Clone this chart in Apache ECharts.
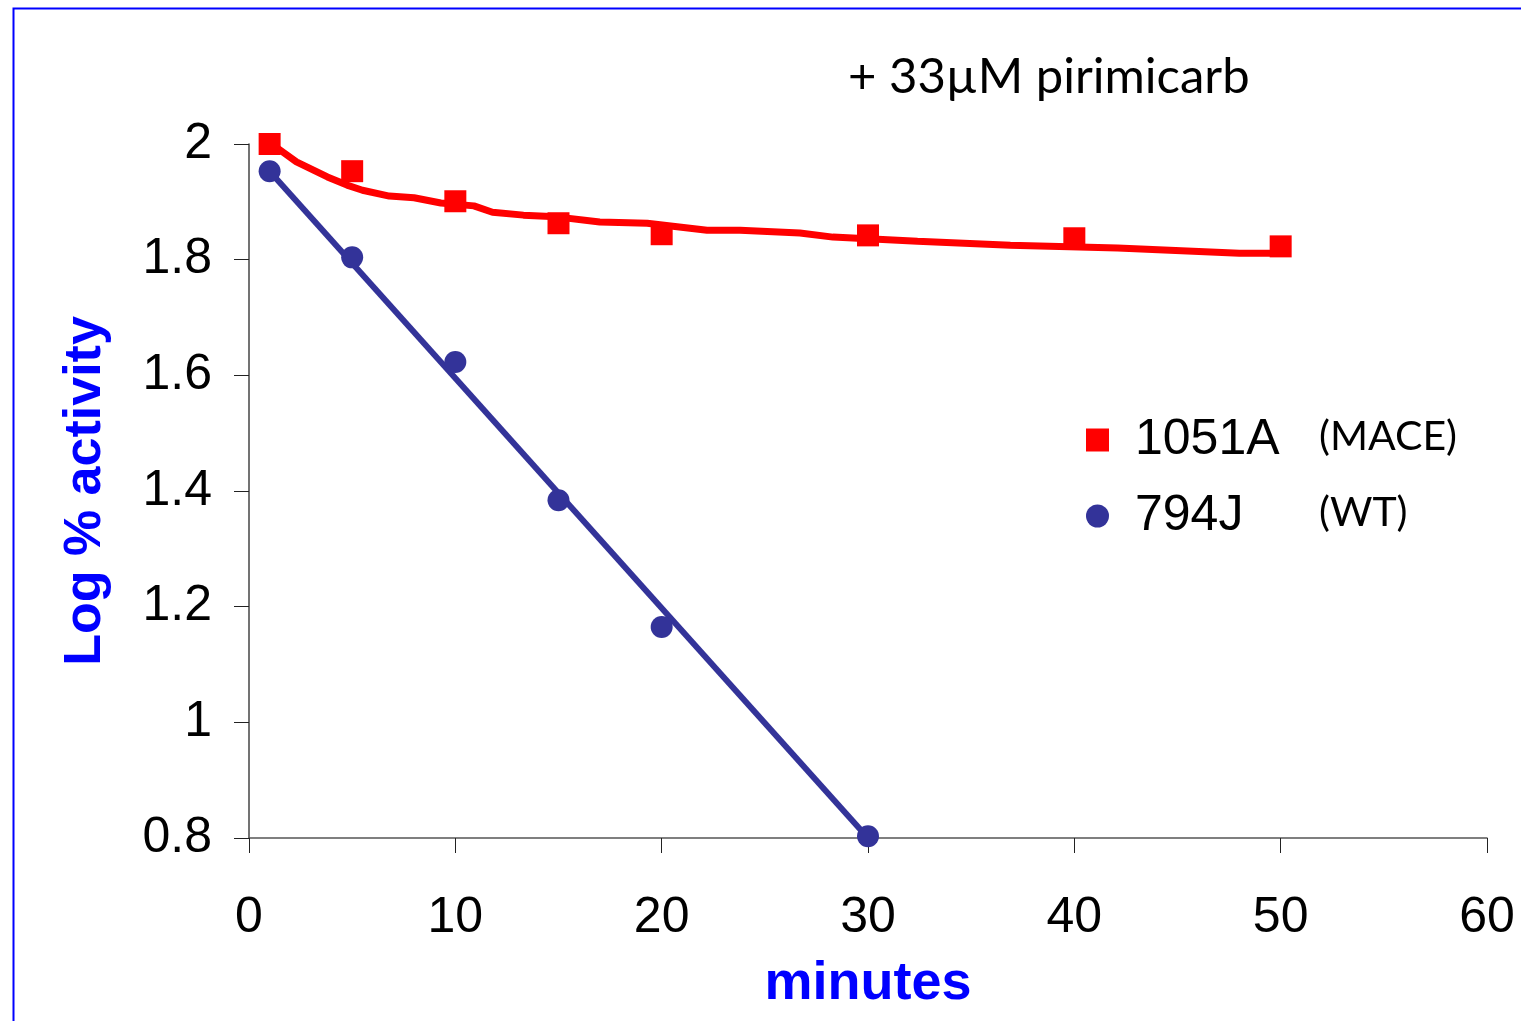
<!DOCTYPE html>
<html>
<head>
<meta charset="utf-8">
<script src="https://cdn.jsdelivr.net/npm/echarts@6/dist/echarts.min.js"></script>
<style>
html,body{margin:0;padding:0;background:#fff;}
#chart{width:1521px;height:1021px;}
</style>
</head>
<body>
<div id="chart"></div>
<script>
// Data
const xTicks = [0, 10, 20, 30, 40, 50, 60];
const yTicks = [0.8, 1, 1.2, 1.4, 1.6, 1.8, 2];
const maceMinutes = [1, 5, 10, 15, 20, 30, 40, 50];
const maceLog = [2.00, 1.953, 1.901, 1.863, 1.844, 1.842, 1.837, 1.823];
const wtMinutes = [1, 5, 10, 15, 20, 30];
const wtLog = [1.953, 1.804, 1.623, 1.384, 1.165, 0.803];
// fitted curves
const maceFitX = [1.1, 2.3, 3.8, 4.75, 5.5, 6.8, 8.0, 9.3, 10.9, 11.8, 13.3, 14.9, 17.0, 19.3, 22.2, 23.8, 26.7, 28.3, 32.4, 36.9, 42.1, 48.0, 50.0];
const maceFitY = [2.000, 1.969, 1.943, 1.929, 1.920, 1.910, 1.907, 1.898, 1.893, 1.882, 1.877, 1.874, 1.865, 1.863, 1.851, 1.851, 1.846, 1.839, 1.832, 1.825, 1.820, 1.811, 1.811];
const wtFitX = [1, 30];
const wtFitY = [1.953, 0.80];

const RED = '#FF0000';
const BLUE = '#333399';
const zip = (a, b) => a.map((v, i) => [v, b[i]]);

const chart = echarts.init(document.getElementById('chart'));
chart.setOption({
  animation: false,
  backgroundColor: '#fff',
  graphic: [
    { type: 'rect', left: 11, top: 6, shape: { width: 1600, height: 1100 },
      style: { fill: 'none', stroke: '#0000FF', lineWidth: 2 }, silent: true },
    { type: 'text', left: 848, top: 53,
      style: { text: '+ 33\u00B5M pirimicarb', font: '49px Lato, "Open Sans", sans-serif', fill: '#000' } }
  ],
  grid: { left: 249, right: 34, top: 144, bottom: 183 },
  legend: {
    orient: 'vertical',
    left: 1081, top: 410,
    itemWidth: 23, itemHeight: 23,
    itemGap: 26,
    data: ['1051A', '794J'],
    formatter: function (name) {
      return name === '1051A' ? '{a|1051A}{b|(MACE)}' : '{a|794J}{b|(WT)}';
    },
    textStyle: {
      rich: {
        a: { fontFamily: '"Liberation Sans", Arial, sans-serif', fontSize: 50, color: '#000', width: 184, padding: [0, 0, 0, 21] },
        b: { fontFamily: 'Lato, "Open Sans", sans-serif', fontSize: 41, color: '#000', padding: [0, 0, 6, 0] }
      }
    }
  },
  xAxis: {
    type: 'value', min: xTicks[0], max: xTicks[xTicks.length - 1], interval: 10,
    name: 'minutes', nameLocation: 'middle', nameGap: 119,
    nameTextStyle: { fontFamily: '"Liberation Sans", Arial, sans-serif', fontWeight: 'bold', fontSize: 54, color: '#0000FF' },
    axisLine: { lineStyle: { color: '#555', width: 1.5 } },
    axisTick: { show: true, length: 15, lineStyle: { color: '#222', width: 1 } },
    axisLabel: { margin: 55, fontFamily: '"Liberation Sans", Arial, sans-serif', fontSize: 50, color: '#000' },
    splitLine: { show: false }
  },
  yAxis: {
    type: 'value', min: yTicks[0], max: yTicks[yTicks.length - 1], interval: 0.2,
    name: 'Log % activity', nameLocation: 'middle', nameGap: 137, nameRotate: 90,
    nameTextStyle: { fontFamily: '"Liberation Sans", Arial, sans-serif', fontWeight: 'bold', fontSize: 52, color: '#0000FF' },
    axisLine: { show: true, lineStyle: { color: '#444', width: 1.5 } },
    axisTick: { show: true, length: 15, lineStyle: { color: '#222', width: 1 } },
    axisLabel: { margin: 37, fontFamily: '"Liberation Sans", Arial, sans-serif', fontSize: 50, color: '#000',
      formatter: v => String(Math.round(v * 10) / 10) },
    splitLine: { show: false }
  },
  series: [
    { name: 'fitMACE', type: 'line', data: zip(maceFitX, maceFitY), showSymbol: false, symbol: 'none',
      lineStyle: { color: RED, width: 7 }, z: 2, silent: true },
    { name: 'fitWT', type: 'line', data: zip(wtFitX, wtFitY), showSymbol: false, symbol: 'none',
      lineStyle: { color: BLUE, width: 6 }, z: 2, silent: true },
    { name: '1051A', type: 'scatter', data: zip(maceMinutes, maceLog), symbol: 'rect', symbolSize: 22,
      itemStyle: { color: RED, opacity: 1 }, z: 3 },
    { name: '794J', type: 'scatter', data: zip(wtMinutes, wtLog), symbol: 'circle', symbolSize: 22,
      itemStyle: { color: BLUE, opacity: 1 }, z: 3 }
  ]
});
</script>
</body>
</html>
